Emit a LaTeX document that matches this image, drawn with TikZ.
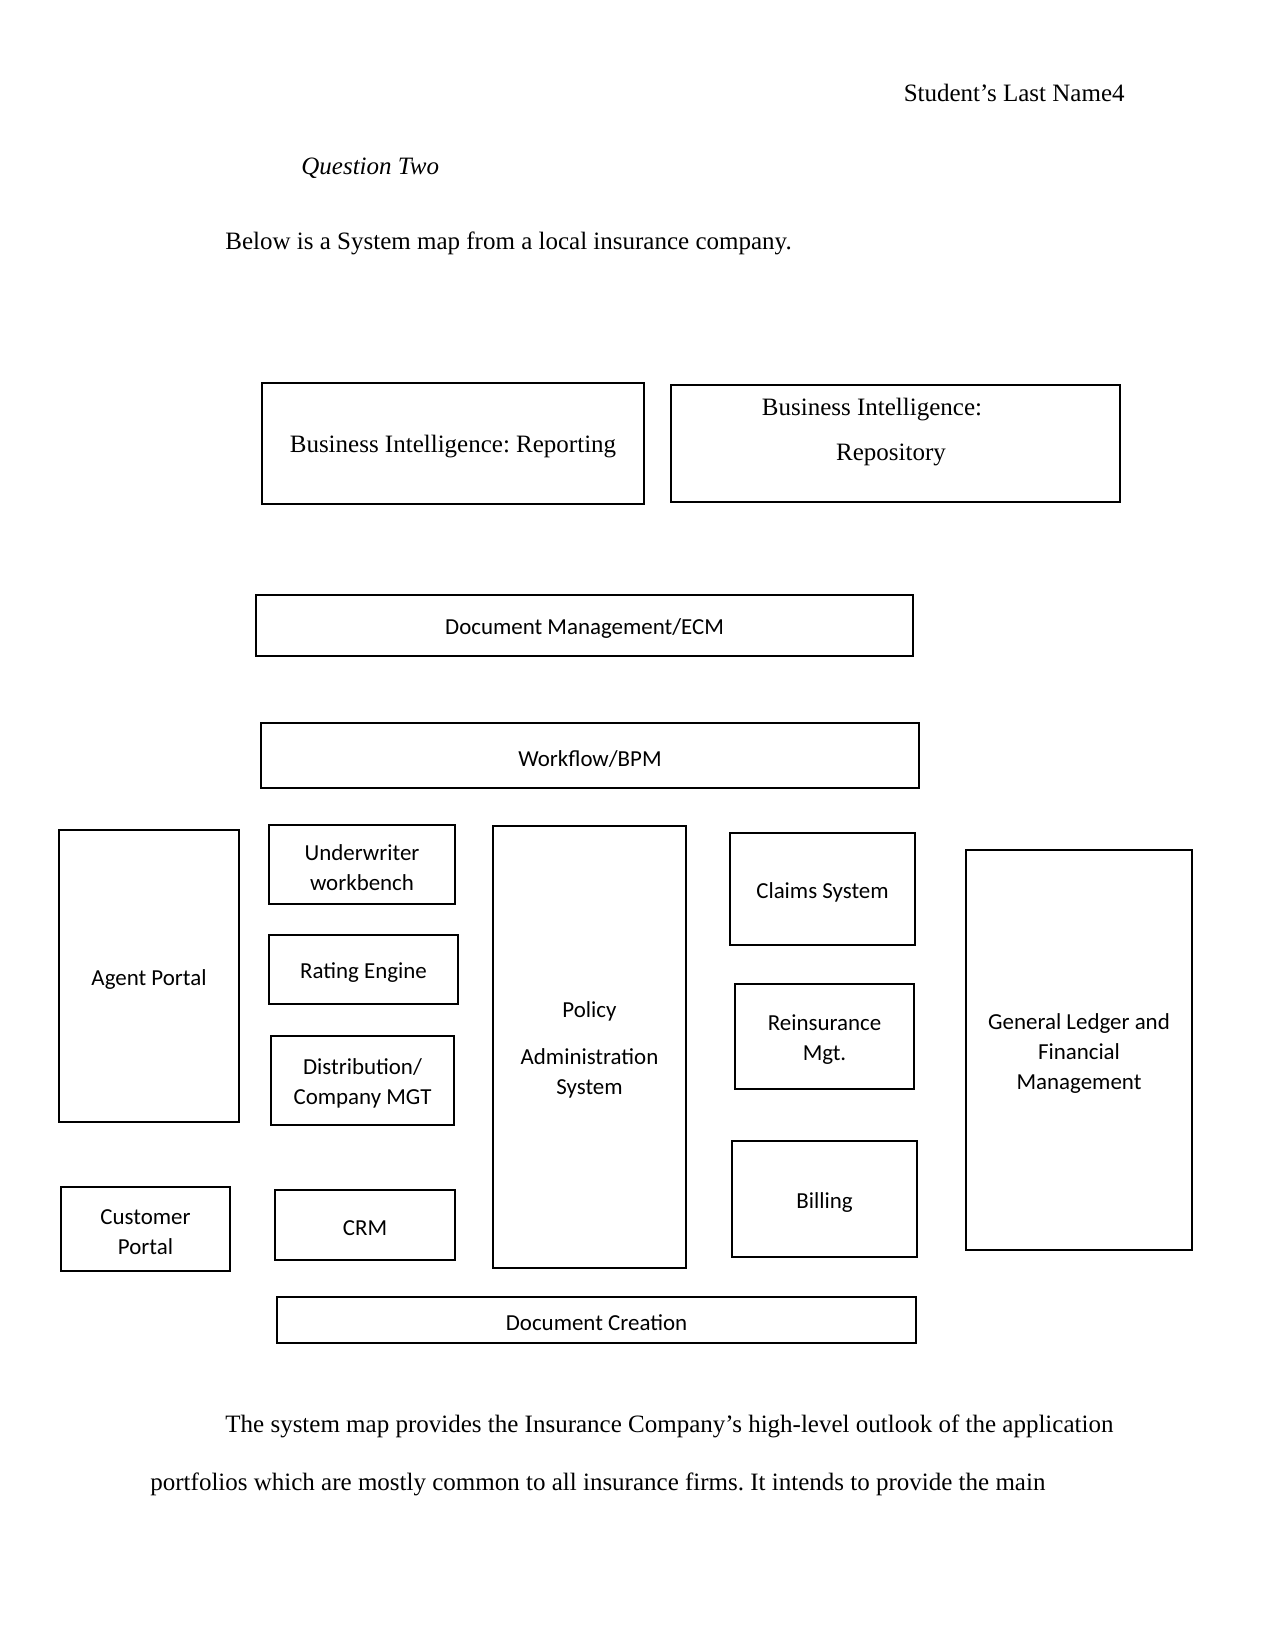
\documentclass[tikz,border=0pt]{standalone}
\usepackage{fontspec}
\setmainfont{Liberation Serif}
\newfontfamily\boxfont{Carlito}
\frenchspacing
\begin{document}
\def\u{0.48pt}
\begin{tikzpicture}[x=0.48pt,y=-0.48pt,
  box/.style={draw, line width=1.1pt, inner sep=0pt},
  lbl/.style={inner sep=0pt, align=center, yshift=-1.5pt,
    font=\boxfont\fontsize{11}{14.4}\selectfont},
  serif/.style={inner sep=0pt, font=\fontsize{12}{14}\selectfont}]
\useasboundingbox[fill=white] (0,0) rectangle (1275,1650);

% header texts
\node[serif, anchor=east] (hdr) at (1125,93) {Student’s Last Name4};
\node[serif, anchor=west] (qtwo) at (301,168) {\itshape Question Two};
\node[serif, anchor=west] (intro) at (225,243) {Below is a System map from a local insurance company.};

% top boxes
\node[box, minimum width=382*\u, minimum height=121*\u,
  label={[lbl, font=\fontsize{12}{14}\selectfont]center:Business Intelligence: Reporting}] (bir) at (453,443.5) {};
\node[box, minimum width=449*\u, minimum height=117*\u] (birep) at (895.5,443.5) {};
\node[serif] (birep1) at (872,410) {Business Intelligence:};
\node[serif] (birep2) at (891,455) {Repository};

\node[box, minimum width=657*\u, minimum height=61*\u, label={[lbl]center:Document Management/ECM}] (dms) at (584.5,625.5) {};
\node[box, minimum width=658*\u, minimum height=65*\u, label={[lbl]center:Workflow/BPM}] (wf) at (590,755.5) {};

% left column
\node[box, minimum width=180*\u, minimum height=292*\u, label={[lbl]center:Agent Portal}] (agent) at (149,976) {};
\node[box, minimum width=169*\u, minimum height=84*\u, label={[lbl]center:{Customer\\Portal}}] (cust) at (145.5,1229) {};

% second column
\node[box, minimum width=186*\u, minimum height=79*\u, label={[lbl]center:{Underwriter\\workbench}}] (uw) at (362,864.5) {};
\node[box, minimum width=189*\u, minimum height=69*\u, label={[lbl]center:Rating Engine}] (rate) at (363.5,969.5) {};
\node[box, minimum width=183*\u, minimum height=89*\u, label={[lbl]center:{Distribution/\\Company MGT}}] (dist) at (362.5,1080.5) {};
\node[box, minimum width=180*\u, minimum height=70*\u, label={[lbl]center:CRM}] (crm) at (365,1225) {};

% policy
\node[box, minimum width=193*\u, minimum height=442*\u, label={[lbl]center:{Policy\\[8pt]Administration\\System}}] (pas) at (589.5,1047) {};

% fourth column
\node[box, minimum width=185*\u, minimum height=112*\u, label={[lbl]center:Claims System}] (claims) at (822.5,889) {};
\node[box, minimum width=179*\u, minimum height=105*\u, label={[lbl]center:{Reinsurance\\Mgt.}}] (reins) at (824.5,1036.5) {};
\node[box, minimum width=185*\u, minimum height=116*\u, label={[lbl]center:Billing}] (bill) at (824.5,1199) {};

% GL
\node[box, minimum width=226*\u, minimum height=400*\u, label={[lbl]center:{General Ledger and\\Financial\\Management}}] (gl) at (1079,1050) {};

% bottom
\node[box, minimum width=639*\u, minimum height=46*\u, label={[lbl]center:Document Creation}] (dc) at (596.5,1320) {};

% paragraph
\node[serif, anchor=west] (p1) at (225,1426) {The system map provides the Insurance Company’s high-level outlook of the application};
\node[serif, anchor=west] (p2) at (150,1484) {portfolios which are mostly common to all insurance firms. It intends to provide the main};
\end{tikzpicture}
\end{document}
